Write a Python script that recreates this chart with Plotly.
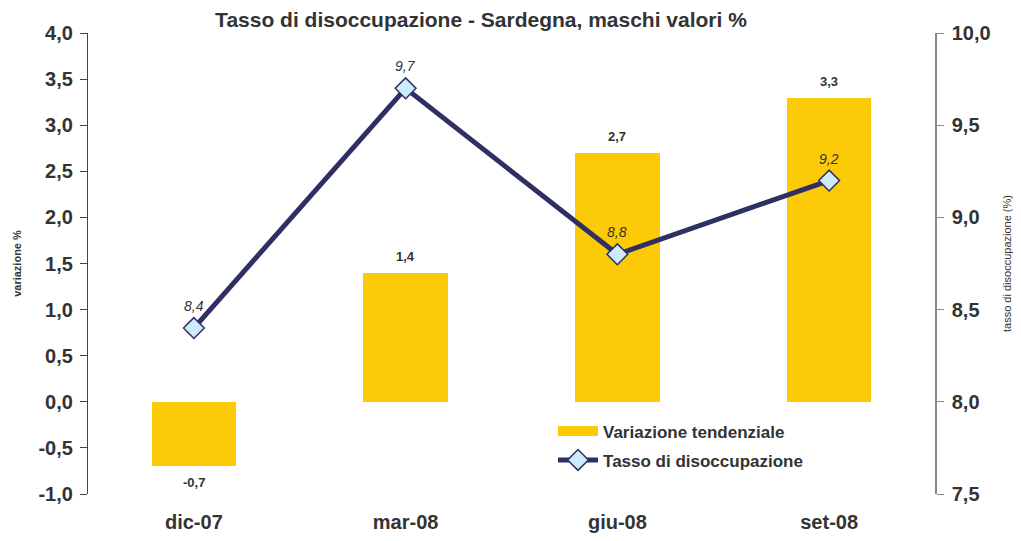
import plotly.graph_objects as go

categories = ["dic-07", "mar-08", "giu-08", "set-08"]
variazione = [-0.7, 1.4, 2.7, 3.3]
tasso = [8.4, 9.7, 8.8, 9.2]
left_ticks = [-1.0, -0.5, 0.0, 0.5, 1.0, 1.5, 2.0, 2.5, 3.0, 3.5, 4.0]
right_ticks = [7.5, 8.0, 8.5, 9.0, 9.5, 10.0]

BAR = "#FCCA06"
NAVY = "#2E2F63"
TXT = "#333333"
FONT = "Liberation Sans"

def fmt(v):
    return f"{v:.1f}".replace(".", ",")

fig = go.Figure()
fig.add_trace(go.Bar(x=categories, y=variazione, name="Variazione tendenziale",
                     showlegend=False,
                     marker=dict(color=BAR, line=dict(width=0)), width=0.4,
                     xaxis="x", yaxis="y"))
# legend-only entry so the swatch is a wide rectangle as in the original
fig.add_trace(go.Scatter(x=[None], y=[None], name="Variazione tendenziale",
                         legendgroup="a", mode="lines",
                         line=dict(color=BAR, width=12), xaxis="x", yaxis="y"))
fig.add_trace(go.Scatter(x=categories, y=tasso, name="Tasso di disoccupazione",
                         legendgroup="b",
                         mode="lines+markers", xaxis="x", yaxis="y2",
                         line=dict(color=NAVY, width=5),
                         marker=dict(symbol="diamond", size=16, color="#CDEBFA",
                                     line=dict(color=NAVY, width=1.5))))

annotations = []
for c, v in zip(categories, variazione):
    annotations.append(dict(x=c, y=v, xref="x", yref="y", text=fmt(v),
                            showarrow=False,
                            font=dict(family=FONT, size=13, color=TXT, weight="bold"),
                            yanchor="bottom" if v >= 0 else "top",
                            yshift=7 if v >= 0 else -7))
for c, v in zip(categories, tasso):
    annotations.append(dict(x=c, y=v, xref="x", yref="y2", text="<i>" + fmt(v) + "</i>",
                            showarrow=False, font=dict(family=FONT, size=14, color=TXT),
                            yanchor="bottom", yshift=12))

tickfont = dict(family=FONT, size=20, color=TXT, weight="bold")

common_y = dict(showgrid=False, zeroline=False, automargin=False)

fig.update_layout(
    width=1005, height=525,
    margin=dict(l=80, r=78, t=25, b=39),
    paper_bgcolor="white", plot_bgcolor="white",
    separators=",.",
    showlegend=True,
    bargap=0,
    font=dict(family=FONT, color=TXT),
    title=dict(text="Tasso di disoccupazione - Sardegna, maschi valori %",
               x=0.464, xref="paper", xanchor="center", y=0.977, yanchor="middle",
               font=dict(family=FONT, size=21, color=TXT, weight="bold")),
    legend=dict(x=0.549, y=0.175, xanchor="left", yanchor="top",
                bgcolor="rgba(0,0,0,0)",
                font=dict(family=FONT, size=17, color=TXT, weight="bold"),
                itemwidth=40, tracegroupgap=4),
    annotations=annotations,
    xaxis=dict(type="category", categoryorder="array", categoryarray=categories,
               range=[-0.5, 3.5], showline=False, showgrid=False, zeroline=False,
               automargin=False,
               ticks="", tickfont=tickfont, ticklabelstandoff=14),
    xaxis2=dict(type="category", categoryorder="array", categoryarray=categories,
                range=[-0.5, 3.5], overlaying="x", anchor="free", position=0.2,
                showline=True, linecolor="#444444", linewidth=1.2, showgrid=False,
                zeroline=False, automargin=False,
                ticks="outside", tickson="boundaries", ticklen=6,
                tickcolor="#444444", showticklabels=False),
    xaxis3=dict(type="category", categoryorder="array", categoryarray=categories,
                range=[-0.5, 3.5], overlaying="x", anchor="free", position=0.2,
                showline=False, showgrid=False, zeroline=False, automargin=False,
                ticks="inside", tickson="boundaries", ticklen=6,
                tickcolor="#444444", showticklabels=False),
    yaxis=dict(range=[-1, 4], tickvals=left_ticks, ticktext=[fmt(v) for v in left_ticks],
               showline=True, linecolor="#444444", linewidth=1.2,
               ticks="outside", ticklen=7, tickcolor="#444444",
               tickfont=tickfont, ticklabelstandoff=3,
               title=dict(text="variazione %",
                          font=dict(family=FONT, size=11, color=TXT, weight="bold"),
                          standoff=14),
               **common_y),
    yaxis3=dict(range=[-1, 4], tickvals=left_ticks, overlaying="y", anchor="x",
                showline=False, ticks="inside", ticklen=6, tickcolor="#444444",
                showticklabels=False, **common_y),
    yaxis2=dict(range=[7.5, 10], tickvals=right_ticks, ticktext=[fmt(v) for v in right_ticks],
                overlaying="y", side="right", anchor="x",
                showline=True, linecolor="#888888", linewidth=1.5,
                ticks="outside", ticklen=7, tickcolor="#888888",
                tickfont=tickfont, ticklabelstandoff=4,
                title=dict(text="tasso di disoccupazione (%)",
                           font=dict(family=FONT, size=11, color=TXT), standoff=16),
                **common_y),
    yaxis4=dict(range=[7.5, 10], tickvals=right_ticks, overlaying="y", side="right",
                anchor="x", showline=False, ticks="inside", ticklen=6,
                tickcolor="#888888", showticklabels=False, **common_y),
)

fig.write_html("out.html")
